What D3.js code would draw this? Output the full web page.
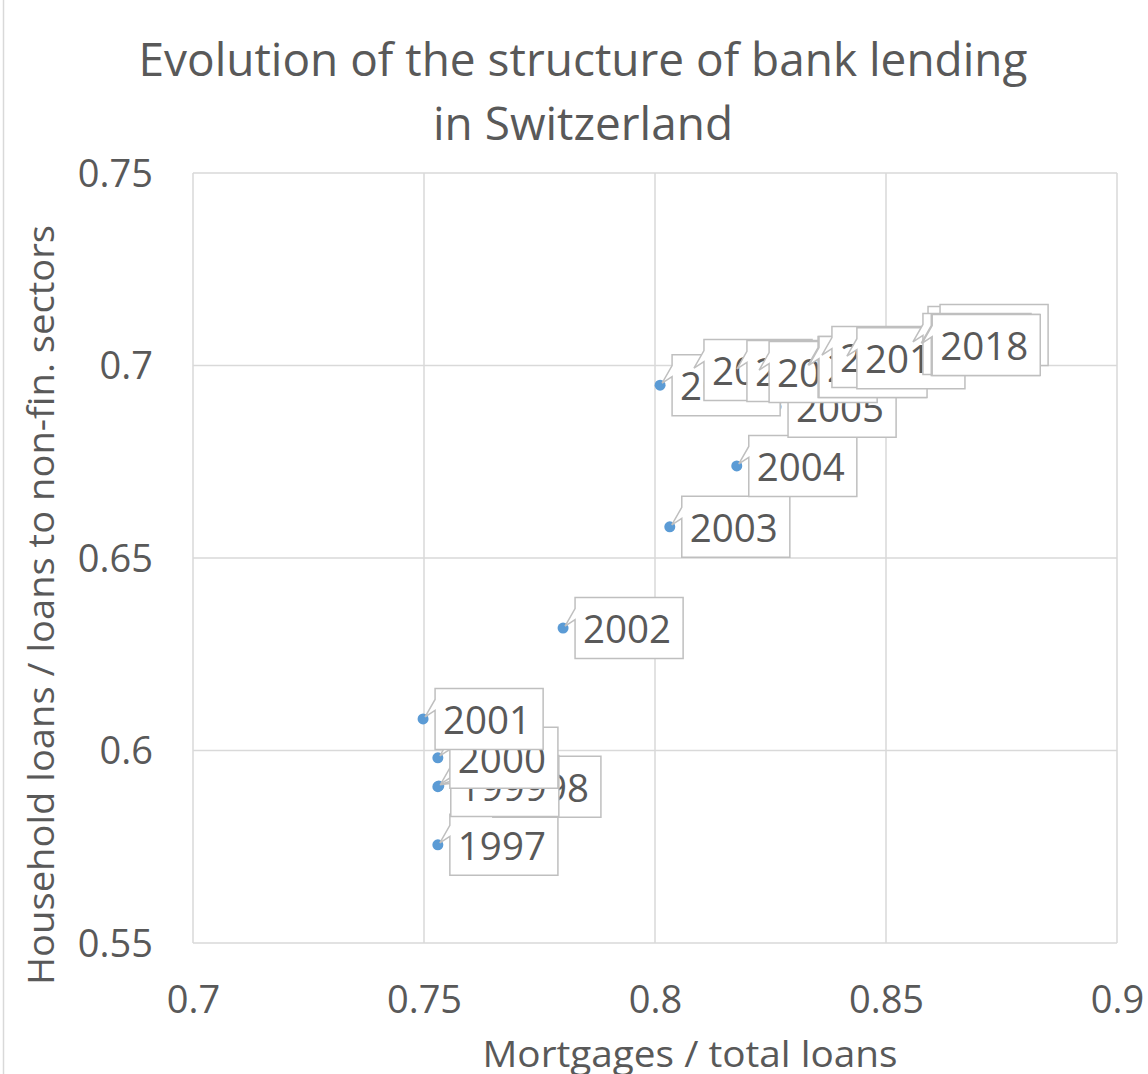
<!DOCTYPE html>
<html>
<head>
<meta charset="utf-8">
<script src="https://cdn.jsdelivr.net/npm/d3@7"></script>
<style>
  html, body { margin: 0; padding: 0; background: #fff; }
  svg { display: block; }
  text { font-family: "Open Sans", "DejaVu Sans", sans-serif; fill: #595959; }
</style>
</head>
<body>
<svg id="chart" width="1148" height="1074"></svg>
<script>
// ---- data ----
const years = [1997, 1998, 1999, 2000, 2001, 2002, 2003, 2004, 2005, 2006, 2007, 2008, 2009,
               2010, 2011, 2012, 2013, 2014, 2015, 2016, 2017, 2018];
const mortgageShare = [0.7530, 0.7530, 0.7532, 0.7530, 0.7498, 0.7801, 0.8032, 0.8177, 0.8262,
                       0.8011, 0.8080, 0.8173, 0.8221, 0.8327, 0.8329, 0.8357, 0.8411,
                       0.8565, 0.8591, 0.8554, 0.8572, 0.8574];
const householdShare = [0.5755, 0.5906, 0.5908, 0.5981, 0.6082, 0.6318, 0.6581, 0.6739, 0.6893,
                        0.6949, 0.6988, 0.6986, 0.6983, 0.6996, 0.6996, 0.7022, 0.7019,
                        0.7074, 0.7079, 0.7056, 0.7053, 0.7053];
const xTicks = [0.7, 0.75, 0.8, 0.85, 0.9];
const yTicks = [0.55, 0.6, 0.65, 0.7, 0.75];
const xTickLabels = ["0.7", "0.75", "0.8", "0.85", "0.9"];
const yTickLabels = ["0.55", "0.6", "0.65", "0.7", "0.75"];
const titleLines = ["Evolution of the structure of bank lending", "in Switzerland"];
const xTitle = "Mortgages / total loans";
const yTitle = "Household loans / loans to non-fin. sectors";

// label layout override (year -> extra horizontal shift of the data label)
const labelShift = { 1998: 43 };

// ---- layout ----
const svg = d3.select("#chart");
const plot = { left: 193, right: 1117, top: 173, bottom: 943 };
const x = d3.scaleLinear().domain([0.7, 0.9]).range([plot.left, plot.right]);
const y = d3.scaleLinear().domain([0.55, 0.75]).range([plot.bottom, plot.top]);
const grid = "#d9d9d9";

// outer chart border (left edge)
svg.append("line").attr("x1", 3.5).attr("x2", 3.5).attr("y1", 0).attr("y2", 1074)
  .attr("stroke", grid).attr("stroke-width", 1.5);

// gridlines
svg.append("g").selectAll("line").data(xTicks).join("line")
  .attr("x1", d => x(d)).attr("x2", d => x(d))
  .attr("y1", plot.top).attr("y2", plot.bottom)
  .attr("stroke", grid).attr("stroke-width", 1.5);
svg.append("g").selectAll("line").data(yTicks).join("line")
  .attr("x1", plot.left).attr("x2", plot.right)
  .attr("y1", d => y(d)).attr("y2", d => y(d))
  .attr("stroke", grid).attr("stroke-width", 1.5);

// axes labels via d3 axes (domain/ticks hidden)
const xAxis = d3.axisBottom(x).tickValues(xTicks).tickFormat((d, i) => xTickLabels[i]).tickSize(0).tickPadding(0);
const gx = svg.append("g").attr("transform", `translate(0,${plot.bottom})`).call(xAxis);
gx.select(".domain").remove();
gx.selectAll("text").attr("y", 70).attr("dy", null).style("font-size", "38px")
  .style("font-family", "'Open Sans', sans-serif").attr("fill", "#595959");

const yAxis = d3.axisLeft(y).tickValues(yTicks).tickFormat((d, i) => yTickLabels[i]).tickSize(0).tickPadding(0);
const gy = svg.append("g").attr("transform", `translate(${plot.left},0)`).call(yAxis);
gy.select(".domain").remove();
gy.selectAll("text").attr("x", -40).attr("dy", "13px").style("font-size", "38px")
  .style("font-family", "'Open Sans', sans-serif").attr("fill", "#595959");

// titles
svg.append("text").attr("x", 583).attr("y", 76).attr("text-anchor", "middle")
  .style("font-size", "45px").attr("textLength", 889).attr("lengthAdjust", "spacingAndGlyphs")
  .text(titleLines[0]);
svg.append("text").attr("x", 583).attr("y", 140).attr("text-anchor", "middle")
  .style("font-size", "45px").attr("textLength", 300).attr("lengthAdjust", "spacingAndGlyphs")
  .text(titleLines[1]);
svg.append("text").attr("x", 690).attr("y", 1067).attr("text-anchor", "middle")
  .style("font-size", "37px").attr("textLength", 415).attr("lengthAdjust", "spacingAndGlyphs")
  .text(xTitle);
svg.append("text").attr("transform", "translate(54,605) rotate(-90)").attr("text-anchor", "middle")
  .style("font-size", "37px").attr("textLength", 760).attr("lengthAdjust", "spacingAndGlyphs")
  .text(yTitle);

// points
const pts = years.map((yr, i) => ({ yr, px: x(mortgageShare[i]), py: y(householdShare[i]) }));
svg.append("g").selectAll("circle").data(pts).join("circle")
  .attr("cx", d => d.px).attr("cy", d => d.py).attr("r", 5.5).attr("fill", "#5b9bd5");

// data label callouts
const lg = svg.append("g");
const boxH = 61;
pts.forEach(d => {
  const g = lg.append("g");
  const bx = d.px + 12 + (labelShift[d.yr] || 0);
  const by = d.py - boxH / 2;
  const path = g.append("path");
  const t = g.append("text").attr("x", bx + 8).attr("y", d.py + 15)
    .style("font-size", "38.5px").text(String(d.yr));
  const w = t.node().getComputedTextLength() + 20;
  const tipX = d.px + 2, tipY = d.py - 2;
  path.attr("d",
    `M${bx},${by} L${bx + w},${by} L${bx + w},${by + boxH} L${bx},${by + boxH} ` +
    `L${bx},${by + 22} L${tipX},${tipY} L${bx},${by + 11} Z`)
    .attr("fill", "#fff").attr("stroke", "#bfbfbf").attr("stroke-width", 1.5)
    .attr("stroke-linejoin", "miter");
});
</script>
</body>
</html>
